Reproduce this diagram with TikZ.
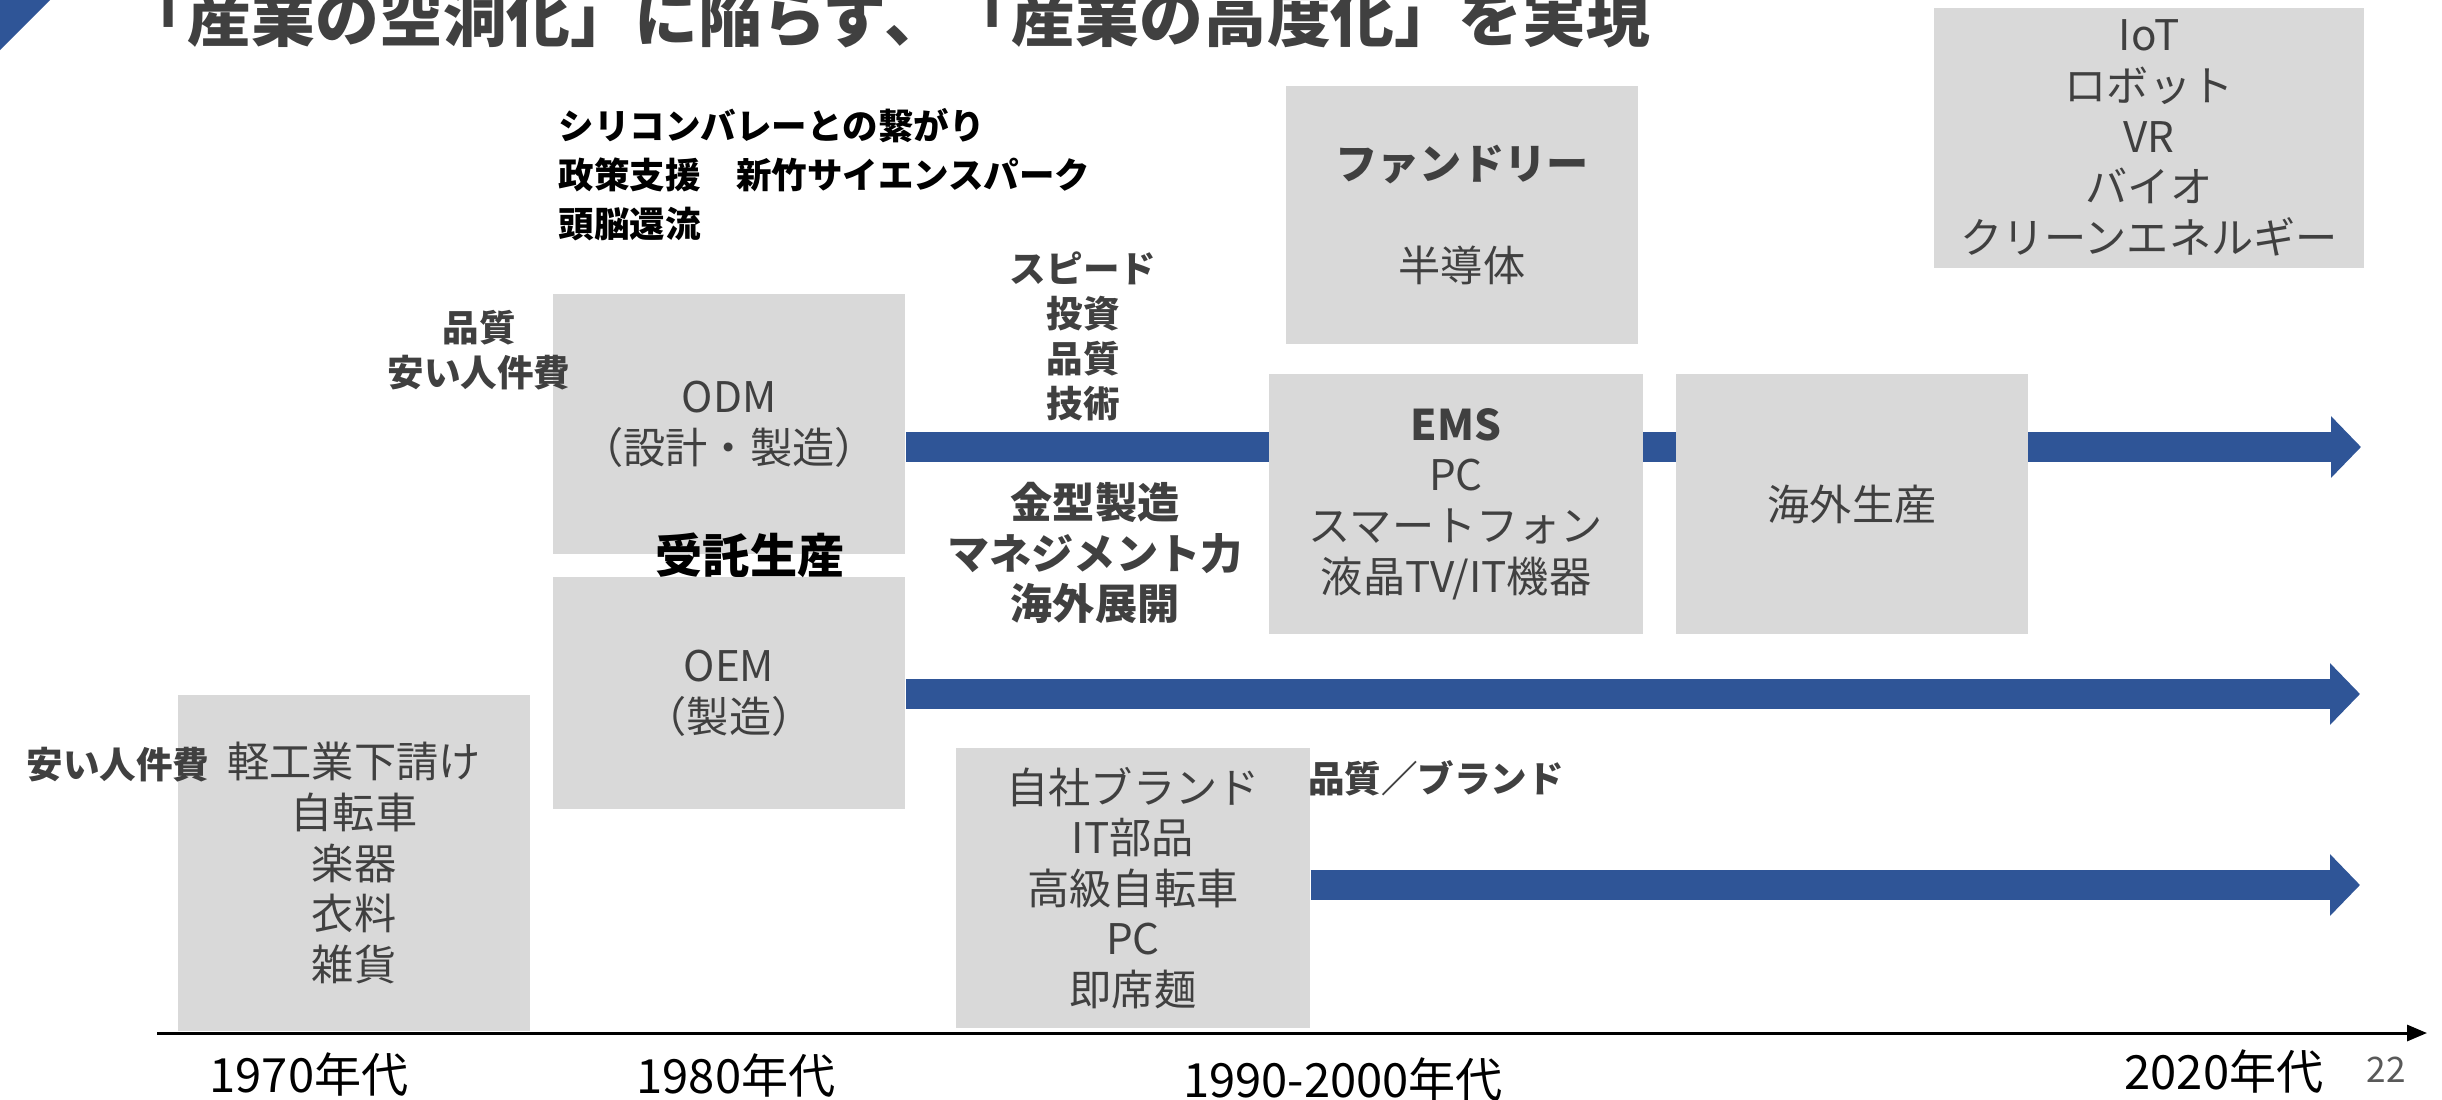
\documentclass[tikz,border=0pt]{standalone}
\usepackage{fontspec}
\setmainfont{Noto Sans CJK JP}
\usepackage{tikz}
\usetikzlibrary{arrows.meta}
\usepackage{xcolor}
\definecolor{boxgray}{HTML}{D9D9D9}
\definecolor{textgray}{HTML}{404040}
\definecolor{flowblue}{HTML}{2F5597}
\pgfdeclarelayer{background}
\pgfsetlayers{background,main}

\begin{document}
\begin{tikzpicture}[x=0.01cm, y=-0.01cm,
    era/.style={fill=boxgray, text=textgray, align=center, inner sep=0pt,
        font=\fontsize{12}{14.4}\selectfont},
    tag/.style={text=textgray, align=center, inner sep=0pt,
        font=\bfseries\fontsize{10.4}{12.8}\selectfont},
    flow/.style={flowblue, line width=0.3cm,
        -{Triangle[length=0.3cm, width=0.6cm]}},
    decade/.style={inner sep=0pt, font=\fontsize{13.4}{16}\selectfont}]
    \useasboundingbox (0,0) rectangle (2442,1099);

    % Corner mark and title
    \fill[flowblue] (0,0) -- (50,0) -- (0,50) -- cycle;
    \node[anchor=base, inner sep=0pt, text=textgray,
        font=\bfseries\fontsize{18.15}{21}\selectfont] (title) at (887,41)
        {「産業の空洞化」に陥らず、「産業の高度化」を実現};

    % Boxes
    \node[era, minimum width=3.52cm, minimum height=3.35cm] (light) at (354,863)
        {軽工業下請け\\自転車\\楽器\\衣料\\雑貨};
    \node[era, minimum width=3.52cm, minimum height=2.60cm] (odm) at (729,424)
        {ODM\\（設計・製造）};
    \node[era, minimum width=3.52cm, minimum height=2.31cm] (oem) at (729,693)
        {OEM\\（製造）};
    \node[era, minimum width=3.54cm, minimum height=2.79cm] (brand) at (1133,888)
        {自社ブランド\\IT部品\\高級自転車\\PC\\即席麺};
    \node[era, minimum width=3.52cm, minimum height=2.58cm] (foundry) at (1462,215)
        {\textbf{ファンドリー}\\[14.8pt]半導体};
    \node[era, minimum width=3.74cm, minimum height=2.60cm] (ems) at (1456,504)
        {\textbf{EMS}\\PC\\スマートフォン\\液晶TV/IT機器};
    \node[era, minimum width=3.52cm, minimum height=2.60cm] (abroad) at (1852,504)
        {海外生産};
    \node[era, minimum width=4.29cm, minimum height=2.60cm] (iot) at (2149,138)
        {IoT\\ロボット\\VR\\バイオ\\クリーンエネルギー};

    % Labels
    \node[tag, text=black, align=left, anchor=west,
        font=\bfseries\fontsize{10.1}{13.9}\selectfont] (silicon) at (558,175)
        {シリコンバレーとの繋がり\\政策支援　新竹サイエンスパーク\\頭脳還流};
    \node[tag] (quality) at (479,350) {品質\\安い人件費};
    \node[tag] (speed) at (1083,336) {スピード\\投資\\品質\\技術};
    \node[tag, font=\bfseries\fontsize{12}{14.4}\selectfont] (mold) at (1095,553)
        {金型製造\\マネジメント力\\海外展開};
    \node[tag, text=black, font=\bfseries\fontsize{13.4}{16}\selectfont] (contract)
        at (750,555) {受託生産};
    \node[tag] (cheap) at (118,765) {安い人件費};
    \node[tag] (brandq) at (1436,778) {品質／ブランド};

    % Time axis
    \coordinate (axisstart) at (157,1033);
    \coordinate (axisend) at (2427,1033);
    \draw[line width=0.03cm, -{Triangle[length=0.2cm, width=0.16cm]}]
        (axisstart) -- (axisend);
    \node[decade] (d1970) at (309,1075) {1970年代};
    \node[decade] (d1980) at (736,1076) {1980年代};
    \node[decade] (d1990) at (1343,1080) {1990-2000年代};
    \node[decade] (d2020) at (2224,1072) {2020年代};
    \node[inner sep=0pt, text=black!65, font=\fontsize{10}{12}\selectfont] (page)
        at (2386,1070) {22};

    % Flows
    \coordinate (topend) at (2361,447);
    \coordinate (midend) at (2360,694);
    \coordinate (lowend) at (2360,885);
    \begin{pgfonlayer}{background}
        \draw[flow] (odm.east |- topend) -- (topend);
        \draw[flow] (oem.east |- midend) -- (midend);
        \draw[flow] (brand.east |- lowend) -- (lowend);
    \end{pgfonlayer}
\end{tikzpicture}
\end{document}
